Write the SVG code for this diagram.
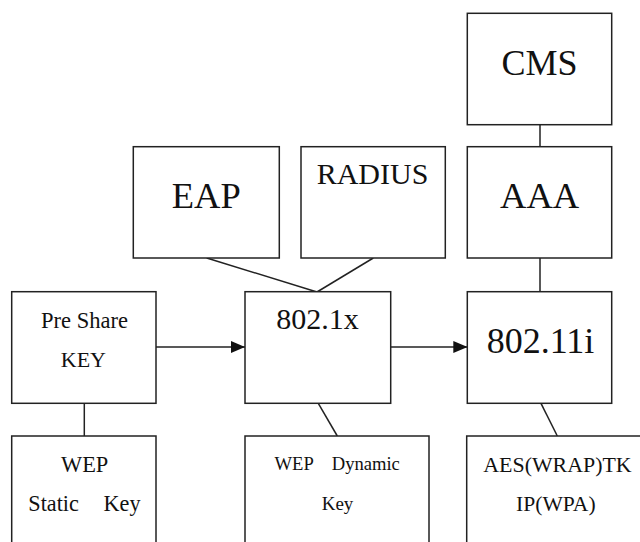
<svg xmlns="http://www.w3.org/2000/svg" width="640" height="542" viewBox="0 0 640 542">
<style>
.box{fill:#fff;stroke:#222;stroke-width:1.5}
.ln{fill:none;stroke:#222;stroke-width:1.5}
.t{fill:#111;text-anchor:middle}
</style>
<defs>
<marker id="ah" markerWidth="14" markerHeight="12" refX="14" refY="6" orient="auto" markerUnits="userSpaceOnUse">
<path d="M0,0 L14,6 L0,12 Z" fill="#111"/>
</marker>
</defs>
<rect width="640" height="542" fill="#fff"/>
<g id="connectors">
<line class="ln" x1="540" y1="124.7" x2="540" y2="146.7"/>
<line class="ln" x1="206.7" y1="258" x2="317" y2="292"/>
<line class="ln" x1="373.3" y1="258" x2="317" y2="292"/>
<line class="ln" x1="540" y1="258" x2="540" y2="292"/>
<line class="ln" x1="156" y1="347" x2="245" y2="347" marker-end="url(#ah)"/>
<line class="ln" x1="390.7" y1="347" x2="467.3" y2="347" marker-end="url(#ah)"/>
<line class="ln" x1="84.3" y1="403.3" x2="84.3" y2="436"/>
<line class="ln" x1="318.3" y1="403.3" x2="337.3" y2="436"/>
<line class="ln" x1="541" y1="403.3" x2="557.3" y2="436"/>
</g>
<g font-family="Liberation Serif, Times New Roman, DejaVu Serif, serif">
<g id="cms">
<rect class="box" x="467.3" y="13.3" width="144.4" height="111.4"/>
<text class="t" x="539.5" y="75" font-size="36">CMS</text>
</g>
<g id="eap">
<rect class="box" x="133.3" y="146.7" width="146" height="111.3"/>
<text class="t" x="206.3" y="208.3" font-size="36.5">EAP</text>
</g>
<g id="radius">
<rect class="box" x="301" y="146.7" width="144.3" height="111.3"/>
<text class="t" x="372.5" y="184.3" font-size="30">RADIUS</text>
</g>
<g id="aaa">
<rect class="box" x="467.3" y="146.7" width="144.4" height="111.3"/>
<text class="t" x="539.6" y="208.3" font-size="36.5">AAA</text>
</g>
<g id="preshare">
<rect class="box" x="11.7" y="291.7" width="144.3" height="111.6"/>
<text class="t" x="84.5" y="327.7" font-size="22.5">Pre Share</text>
<text class="t" x="83.4" y="367" font-size="22">KEY</text>
</g>
<g id="dot1x">
<rect class="box" x="245" y="291.7" width="145.7" height="111.6"/>
<text class="t" x="317.5" y="329.3" font-size="30">802.1x</text>
</g>
<g id="dot11i">
<rect class="box" x="467.3" y="291.7" width="144.4" height="111.6"/>
<text class="t" x="540.5" y="352.7" font-size="36">802.11i</text>
</g>
<g id="wepstatic">
<rect class="box" x="11.7" y="436" width="144.3" height="120"/>
<text class="t" x="84.7" y="471.7" font-size="22.4">WEP</text>
<text class="t" x="53.6" y="510.7" font-size="22.2">Static</text>
<text class="t" x="122" y="510.7" font-size="22.2">Key</text>
</g>
<g id="wepdynamic">
<rect class="box" x="245" y="436" width="184" height="120"/>
<text class="t" x="294.2" y="470" font-size="18.6">WEP</text>
<text class="t" x="365.8" y="470" font-size="18.6">Dynamic</text>
<text class="t" x="337.5" y="510" font-size="19">Key</text>
</g>
<g id="aes">
<rect class="box" x="466.7" y="436" width="190" height="120"/>
<text class="t" x="557.5" y="471.7" font-size="21.9">AES(WRAP)TK</text>
<text class="t" x="555.8" y="511" font-size="21.6">IP(WPA)</text>
</g>
</g>
</svg>
